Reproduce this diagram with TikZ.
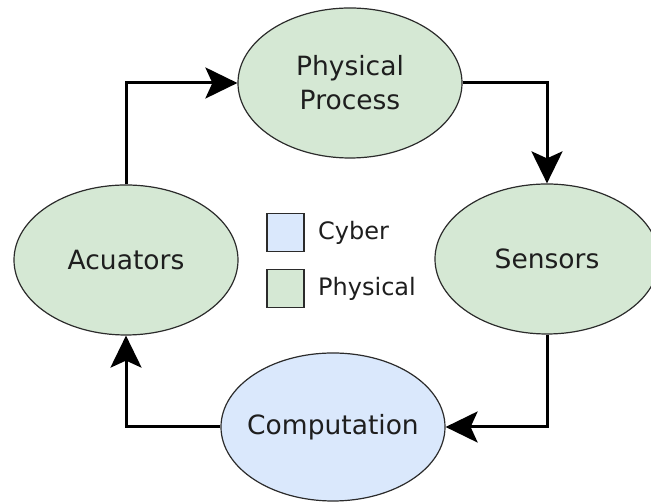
\documentclass[tikz,border=0pt]{standalone}
\usepackage{fontspec}
\setmainfont{DejaVu Sans}
\usetikzlibrary{shapes.geometric,arrows.meta}
\definecolor{physfill}{HTML}{D5E8D4}
\definecolor{cyberfill}{HTML}{DAE8FC}
\definecolor{inkline}{HTML}{2B2B2B}
\definecolor{inktext}{HTML}{1E1E1E}
\tikzset{
  blob/.style={ellipse, draw=inkline, line width=1.2pt,
    inner xsep=-14pt, inner ysep=0pt,
    minimum width=224pt, minimum height=150pt, align=center,
    text=inktext, font=\fontsize{26.5}{34}\selectfont},
  physblob/.style={blob, fill=physfill},
  cyberblob/.style={blob, fill=cyberfill},
  flow/.style={line width=3pt, draw=black,
    -{Stealth[length=32pt, width=31pt, inset=7pt]}},
  keybox/.style={draw=inkline, line width=1.2pt, minimum width=37pt,
    minimum height=38pt, inner sep=0pt},
  keytext/.style={anchor=west, inner sep=0pt, text=inktext,
    font=\fontsize{24}{28}\selectfont}
}
\begin{document}
\begin{tikzpicture}[x=1pt, y=1pt]
  \useasboundingbox (0,0) rectangle (651,502);

  % the four stages of the loop
  \node[physblob] (proc) at (350,419) {Physical\\Process};
  \node[physblob] (sens) at (547,243) {Sensors};
  \node[cyberblob, minimum height=148pt] (comp) at (333,75) {Computation};
  \node[physblob] (act) at (126,242) {Acuators};

  % loop connectors
  \draw[flow] (proc.east) -| (sens.north);
  \draw[flow] (sens.south) |- (comp.east);
  \draw[flow] (comp.west) -| (act.south);
  \draw[flow] (act.north) |- (proc.west);

  % legend
  \node[keybox, fill=cyberfill] (kcyber) at (285.5,269.5) {};
  \node[keybox, fill=physfill] (kphys) at (285.5,213.5) {};
  \node[keytext] (tcyber) at (318,269.5) {Cyber};
  \node[keytext] (tphys) at (318,213.5) {Physical};
\end{tikzpicture}
\end{document}
